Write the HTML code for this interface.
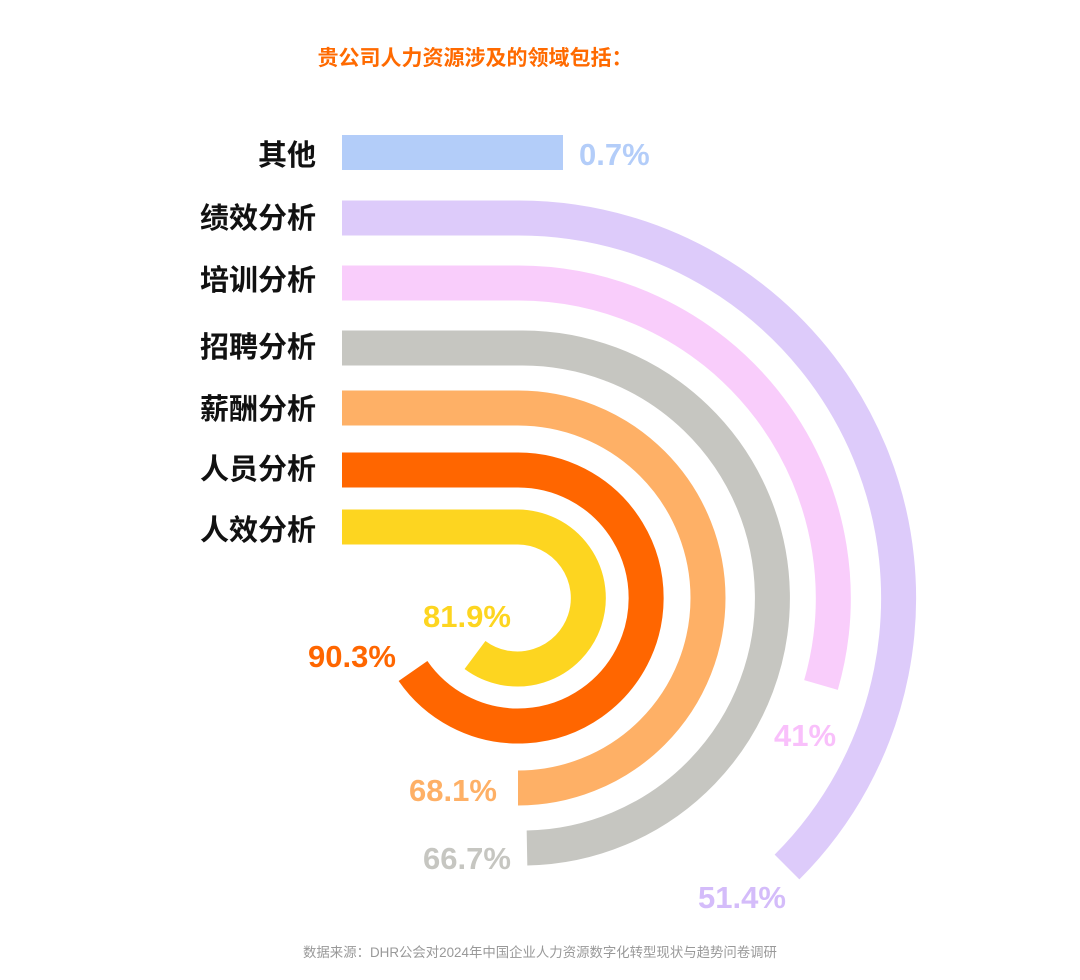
<!DOCTYPE html>
<html><head><meta charset="utf-8"><style>
body{margin:0;background:#fff;}
svg{display:block;}
text{font-family:"Liberation Sans","Noto Sans CJK SC",sans-serif;}
</style></head><body>
<svg width="1080" height="980" viewBox="0 0 1080 980" xmlns="http://www.w3.org/2000/svg">
<text x="475" y="65" text-anchor="middle" font-size="21" font-weight="bold" fill="#ff6a00">贵公司人力资源涉及的领域包括：</text>
<rect x="342" y="135" width="221" height="35" fill="#b3cdf9"/>
<g fill="none" stroke-width="35" stroke-linecap="butt">
<path d="M342 218 L518 218 A380 380 0 0 1 787 867" stroke="#ddcbfa"/>
<path d="M342 283 L518 283 A315 315 0 0 1 821 685" stroke="#f9cdfb"/>
<path d="M342 348 L518 348 A250 250 0 0 1 527 848" stroke="#c6c6c1"/>
<path d="M342 408 L518 408 A190 190 0 0 1 518 788" stroke="#feb066"/>
<path d="M342 470 L518 470 A128 128 0 1 1 413 671" stroke="#ff6600"/>
<path d="M342 527 L518 527 A71 71 0 1 1 475 655" stroke="#fdd520"/>
</g>
<g font-size="29" font-weight="bold" fill="#111" text-anchor="end">
<text x="316" y="165">其他</text>
<text x="316" y="228">绩效分析</text>
<text x="316" y="290">培训分析</text>
<text x="316" y="357">招聘分析</text>
<text x="316" y="419">薪酬分析</text>
<text x="316" y="479">人员分析</text>
<text x="316" y="540">人效分析</text>
</g>
<g font-size="31" font-weight="bold">
<text x="579" y="165" fill="#b3cdf9">0.7%</text>
<text x="467" y="627" text-anchor="middle" fill="#fdd520">81.9%</text>
<text x="352" y="667" text-anchor="middle" fill="#ff6600">90.3%</text>
<text x="805" y="746" text-anchor="middle" fill="#f9c0fb">41%</text>
<text x="453" y="801" text-anchor="middle" fill="#feb066">68.1%</text>
<text x="467" y="869" text-anchor="middle" fill="#c6c6c1">66.7%</text>
<text x="742" y="908" text-anchor="middle" fill="#d4bcfa">51.4%</text>
</g>
<text x="540" y="957" text-anchor="middle" font-size="13.4" fill="#999">数据来源：DHR公会对2024年中国企业人力资源数字化转型现状与趋势问卷调研</text>
</svg>
</body></html>
